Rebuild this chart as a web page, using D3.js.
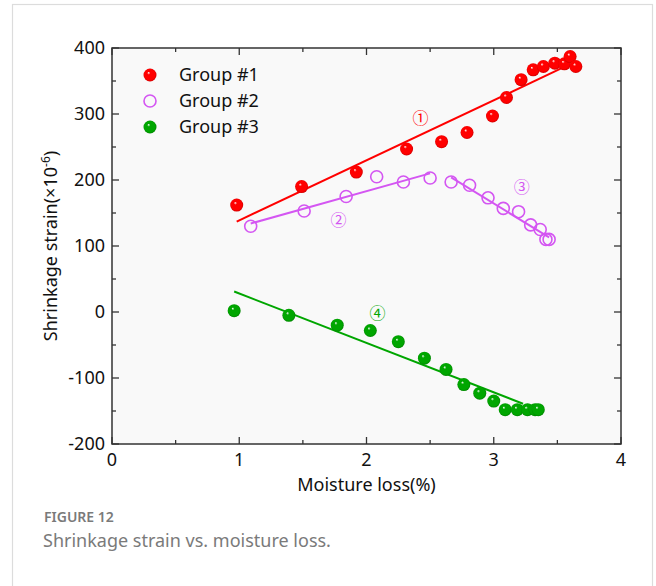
<!DOCTYPE html>
<html>
<head>
<meta charset="utf-8">
<script src="https://cdn.jsdelivr.net/npm/d3@7"></script>
<style>
  html, body { margin: 0; padding: 0; background: #fff; }
  svg { display: block; font-family: "Noto Sans", "Open Sans", sans-serif; }
</style>
</head>
<body>
<svg id="chart" width="656" height="586"></svg>
<script>
// Group #1 — filled red markers, single linear fit
const group1X = [0.98, 1.49, 1.92, 2.315, 2.59, 2.79, 2.99, 3.10, 3.215, 3.31, 3.39, 3.48, 3.555, 3.60, 3.645];
const group1Y = [162, 190, 212, 247, 258, 272, 297, 325, 352, 367, 372, 377, 376, 387, 372];
const fit1X = [0.98, 3.53];
const fit1Y = [137, 369];

// Group #2 — open purple markers, two-stage fit (rise then fall)
const group2X = [1.09, 1.51, 1.84, 2.08, 2.29, 2.50, 2.665, 2.81, 2.955, 3.075, 3.195, 3.29, 3.365, 3.41, 3.435];
const group2Y = [130, 153, 175, 205, 197, 203, 197, 192, 173, 157, 152, 132, 125, 110, 110];
const fit2aX = [1.09, 2.50];
const fit2aY = [134, 210];
const fit2bX = [2.665, 3.435];
const fit2bY = [204, 113];

// Group #3 — filled green markers, linear fit
const group3X = [0.96, 1.39, 1.77, 2.03, 2.25, 2.455, 2.625, 2.765, 2.89, 3.00, 3.09, 3.185, 3.265, 3.325, 3.35];
const group3Y = [2, -5, -20, -28, -45, -70, -87, -110, -123, -135, -148, -148, -148, -148, -148];
const fit3X = [0.96, 3.23];
const fit3Y = [31, -139];

// Stage labels placed in data coordinates
const stageLabels = ["①", "②", "③", "④"];
const stageX = [2.425, 1.78, 3.22, 2.087];
const stageY = [295, 141, 191, 0];

const legendNames = ["Group #1", "Group #2", "Group #3"];
const xTicks = [0, 1, 2, 3, 4];
const yTicks = [-200, -100, 0, 100, 200, 300, 400];

const RED = "#ff0000", PURPLE = "#d456f2", GREEN = "#00a600";

const svg = d3.select("#chart");

// card outline
svg.append("rect").attr("x", 12.5).attr("y", 4.5).attr("width", 640).attr("height", 600)
  .attr("fill", "#fff").attr("stroke", "#dcdcdc").attr("stroke-width", 1.2);

const plotL = 112, plotR = 621, plotT = 48, plotB = 444;
const x = d3.scaleLinear().domain([0, 4]).range([plotL, plotR]);
const y = d3.scaleLinear().domain([-200, 400]).range([plotB, plotT]);

// plot background
svg.append("rect").attr("x", plotL).attr("y", plotT).attr("width", plotR - plotL).attr("height", plotB - plotT)
  .attr("fill", "#f9f9f9");

// glossy sphere gradients
const defs = svg.append("defs");
function sphere(id, base, dark) {
  const g = defs.append("radialGradient").attr("id", id)
    .attr("cx", "50%").attr("cy", "50%").attr("r", "55%")
    .attr("fx", "38%").attr("fy", "32%");
  g.append("stop").attr("offset", "0%").attr("stop-color", "#ffffff");
  g.append("stop").attr("offset", "22%").attr("stop-color", base);
  g.append("stop").attr("offset", "75%").attr("stop-color", base);
  g.append("stop").attr("offset", "100%").attr("stop-color", dark);
}
sphere("ballRed", RED, "#c00000");
sphere("ballGreen", GREEN, "#007a00");

// axes: ticks drawn inward on all four sides
const minorX = d3.range(0, 4.01, 0.5).filter(v => !xTicks.includes(v));
const minorY = d3.range(-200, 401, 50).filter(v => !yTicks.includes(v));
const axisG = svg.append("g").attr("stroke", "#333").attr("stroke-width", 1.3);
function tickSetX(vals, len) {
  vals.forEach(v => {
    axisG.append("line").attr("x1", x(v)).attr("x2", x(v)).attr("y1", plotB).attr("y2", plotB - len);
    axisG.append("line").attr("x1", x(v)).attr("x2", x(v)).attr("y1", plotT).attr("y2", plotT + len);
  });
}
function tickSetY(vals, len) {
  vals.forEach(v => {
    axisG.append("line").attr("y1", y(v)).attr("y2", y(v)).attr("x1", plotL).attr("x2", plotL + len);
    axisG.append("line").attr("y1", y(v)).attr("y2", y(v)).attr("x1", plotR).attr("x2", plotR - len);
  });
}
tickSetX(xTicks, 7); tickSetX(minorX, 4);
tickSetY(yTicks, 7); tickSetY(minorY, 4);
svg.append("rect").attr("x", plotL).attr("y", plotT).attr("width", plotR - plotL).attr("height", plotB - plotT)
  .attr("fill", "none").attr("stroke", "#333").attr("stroke-width", 1.5);

// tick labels
svg.append("g").selectAll("text").data(xTicks).join("text")
  .attr("x", d => x(d)).attr("y", plotB + 22).attr("text-anchor", "middle")
  .attr("font-size", 18).attr("fill", "#111").text(d => d);
svg.append("g").selectAll("text").data(yTicks).join("text")
  .attr("x", plotL - 7).attr("y", d => y(d) + 6).attr("text-anchor", "end")
  .attr("font-size", 18).attr("fill", "#111").text(d => d);

// axis titles
svg.append("text").attr("x", (plotL + plotR) / 2).attr("y", plotB + 47).attr("text-anchor", "middle")
  .attr("font-size", 18).attr("fill", "#111").text("Moisture loss(%)");
const yt = svg.append("text").attr("transform", `translate(57,${(plotT + plotB) / 2}) rotate(-90)`)
  .attr("text-anchor", "middle").attr("font-size", 18).attr("fill", "#111");
yt.append("tspan").text("Shrinkage strain(×10");
yt.append("tspan").attr("dy", -7).attr("font-size", 12).text("-6");
yt.append("tspan").attr("dy", 7).text(")");

// fit lines
const line = d3.line().x(d => x(d[0])).y(d => y(d[1]));
const fits = [
  [fit1X, fit1Y, RED], [fit2aX, fit2aY, PURPLE], [fit2bX, fit2bY, PURPLE], [fit3X, fit3Y, GREEN]
];
fits.forEach(([fx, fy, c]) => {
  svg.append("path").datum(d3.zip(fx, fy)).attr("d", line)
    .attr("fill", "none").attr("stroke", c).attr("stroke-width", 2);
});

// markers
const R = 6.5;
svg.append("g").selectAll("circle").data(d3.zip(group2X, group2Y)).join("circle")
  .attr("cx", d => x(d[0])).attr("cy", d => y(d[1])).attr("r", R - 0.5)
  .attr("fill", "none").attr("stroke", PURPLE).attr("stroke-width", 1.6);
svg.append("g").selectAll("circle").data(d3.zip(group1X, group1Y)).join("circle")
  .attr("cx", d => x(d[0])).attr("cy", d => y(d[1])).attr("r", R)
  .attr("fill", "url(#ballRed)");
svg.append("g").selectAll("circle").data(d3.zip(group3X, group3Y)).join("circle")
  .attr("cx", d => x(d[0])).attr("cy", d => y(d[1])).attr("r", R)
  .attr("fill", "url(#ballGreen)");

// stage labels (circled digits)
const stageColors = [RED, PURPLE, PURPLE, GREEN];
svg.append("g").selectAll("text").data(stageLabels).join("text")
  .attr("x", (d, i) => x(stageX[i])).attr("y", (d, i) => y(stageY[i]))
  .attr("dominant-baseline", "central")
  .attr("text-anchor", "middle").attr("font-size", 16)
  .style("font-family", "'Noto Sans CJK SC', 'Noto Sans CJK JP', sans-serif")
  .attr("fill", (d, i) => stageColors[i]).text(d => d);

// legend
const legY = [75, 101, 127];
const lg = svg.append("g");
legendNames.forEach((name, i) => {
  if (i === 1) {
    lg.append("circle").attr("cx", 150).attr("cy", legY[i]).attr("r", R - 0.5)
      .attr("fill", "none").attr("stroke", PURPLE).attr("stroke-width", 1.6);
  } else {
    lg.append("circle").attr("cx", 150).attr("cy", legY[i]).attr("r", R)
      .attr("fill", i === 0 ? "url(#ballRed)" : "url(#ballGreen)");
  }
  lg.append("text").attr("x", 179).attr("y", legY[i] + 6).attr("font-size", 18)
    .attr("fill", "#111").text(name);
});

// caption
svg.append("text").attr("x", 44).attr("y", 522).attr("font-size", 14).attr("font-weight", 600)
  .attr("fill", "#7a7a7a").text("FIGURE 12");
svg.append("text").attr("x", 43).attr("y", 547).attr("font-size", 18)
  .attr("fill", "#7a7a7a").text("Shrinkage strain vs. moisture loss.");
</script>
</body>
</html>
